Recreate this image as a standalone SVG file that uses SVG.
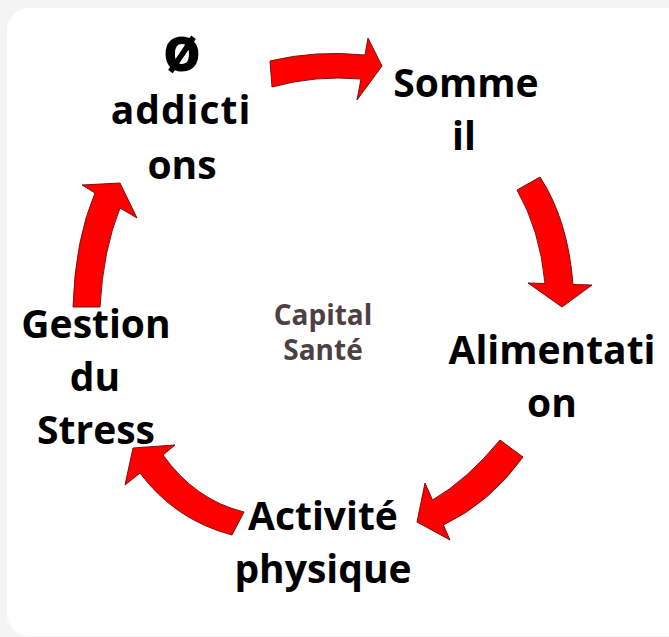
<svg xmlns="http://www.w3.org/2000/svg" width="669" height="637" viewBox="0 0 669 637">
  <style>
    .lbl { font-family: "Open Sans", "Noto Sans", "Liberation Sans", sans-serif; font-weight: 700; font-size: 39px; fill: #000; text-anchor: middle; }
    .big { font-size: 62px; }
    .center { font-family: "Open Sans", "Noto Sans", "Liberation Sans", sans-serif; font-weight: 700; font-size: 28px; fill: #4d3f43; text-anchor: middle; }
    .arrow { fill: #ff0000; stroke: #7a1010; stroke-width: 1; stroke-linejoin: miter; }
  </style>
  <rect x="0" y="0" width="669" height="637" fill="#f4f4f4"/>
  <rect x="7" y="8" width="700" height="628" rx="22" ry="22" fill="#ffffff"/>

  <g id="connectors">
    <path class="arrow" d="M 270 61 Q 315 50 365 55 L 368 38 L 382 66 L 357 100 L 361 79 Q 315 75 272 87 Z"/>
    <path class="arrow" d="M 517 190 Q 540 230 545 283.5 L 528 283 L 562 307 L 592 285 L 573 284.5 Q 568 220 540 177 Z"/>
    <path class="arrow" d="M 500 440 Q 467 480 432.5 500 L 425 483 L 417 522 L 450 540 L 443.4 525 Q 490 503 523 457 Z"/>
    <path class="arrow" d="M 244 512 Q 195 500 163 455 L 175 445 L 133 448 L 125 485 L 140 473 Q 175 520 232 535 Z"/>
    <path class="arrow" d="M 73 307 Q 75 240 95 193 L 82 185 L 120 183 L 137 218 L 120 208 Q 103 250 100 307 Z"/>
  </g>

  <g id="node-addictions">
    <text class="lbl big" x="182" y="71">ø</text>
    <text class="lbl" x="181" y="124" letter-spacing="1">addicti</text>
    <text class="lbl" x="182" y="179">ons</text>
  </g>
  <g id="node-sommeil">
    <text class="lbl" x="466" y="97">Somme</text>
    <text class="lbl" x="464" y="150">il</text>
  </g>
  <g id="node-alimentation">
    <text class="lbl" x="552" y="364">Alimentati</text>
    <text class="lbl" x="552" y="417">on</text>
  </g>
  <g id="node-activite">
    <text class="lbl" x="323" y="530">Activité</text>
    <text class="lbl" x="323" y="583">physique</text>
  </g>
  <g id="node-stress">
    <text class="lbl" x="96" y="338">Gestion</text>
    <text class="lbl" x="95" y="391">du</text>
    <text class="lbl" x="96" y="444">Stress</text>
  </g>
  <g id="node-center">
    <text class="center" x="323" y="325">Capital</text>
    <text class="center" x="323" y="360">Santé</text>
  </g>
</svg>
